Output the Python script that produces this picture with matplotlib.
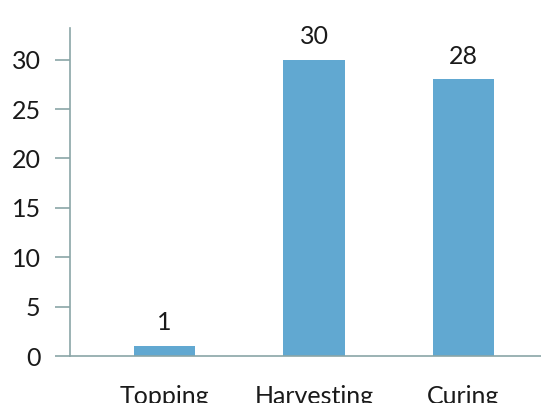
import matplotlib.pyplot as plt

# tobacco stages and counts
stages = ["Topping", "Harvesting", "Curing"]
counts = [1, 30, 28]
y_ticks = [0, 5, 10, 15, 20, 25, 30]

bar_color = "#61a8d1"
axis_color = "#8aa5a7"
text_color = "#1a1a1a"

plt.rcParams["font.family"] = ["Lato", "DejaVu Sans"]

fig = plt.figure(figsize=(5.41, 4.03), dpi=100)
ax = fig.add_axes([0.1303, 0.1166, 0.8697, 0.8139])

x = list(range(len(stages)))
bars = ax.bar(x, counts, width=0.41, color=bar_color, zorder=2)

# value labels above each bar
for b, v in zip(bars, counts):
    ax.annotate(str(v), (b.get_x() + b.get_width() / 2, b.get_height()),
                xytext=(0, 8.5), textcoords="offset points",
                ha="center", va="bottom", fontsize=18, color=text_color)

ax.set_xlim(-0.629, 2.518)
ax.set_ylim(0, 33.2)
ax.set_xticks(x)
ax.set_xticklabels(stages)
ax.set_yticks(y_ticks)

for side in ["top", "right"]:
    ax.spines[side].set_visible(False)
for side in ["left", "bottom"]:
    ax.spines[side].set_color(axis_color)
    ax.spines[side].set_linewidth(1.2)

ax.tick_params(axis="y", length=11, width=1.2, color=axis_color, pad=10.5,
               labelsize=18, labelcolor=text_color)
ax.tick_params(axis="x", length=0, pad=21, labelsize=18, labelcolor=text_color)

fig.savefig("out.png", dpi=100)
